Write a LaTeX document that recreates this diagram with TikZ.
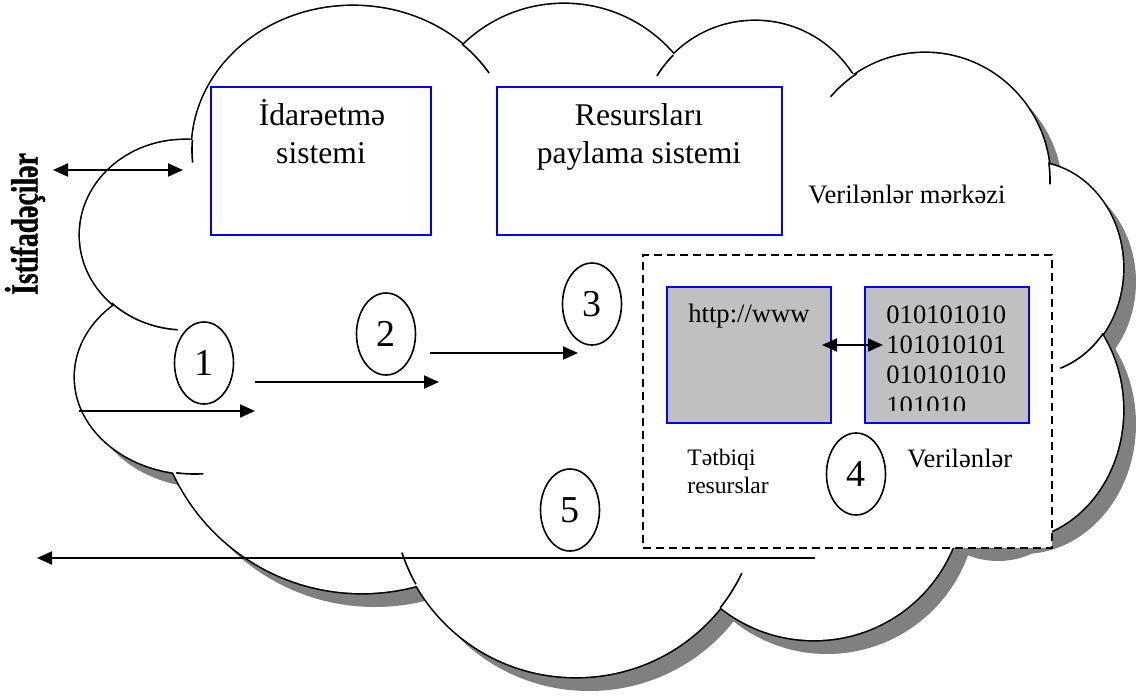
\documentclass[tikz,border=0pt]{standalone}
\usepackage{fontspec}
\setmainfont{Liberation Serif}
\newfontfamily\usersfont[FakeBold=1.2]{Liberation Serif Bold}
\usetikzlibrary{arrows.meta,shapes.geometric}
\definecolor{shadowgray}{HTML}{808080}
\definecolor{boxgray}{HTML}{C0C0C0}
\definecolor{boxblue}{HTML}{0000FF}
\newcommand\lobelist{185/235/105/95, 353/150/161/144, 564/150/145/146, 755/136/115/115, 925/180/125/127, 1030/268/93/106, 1010/410/113/130, 985/478/75/69, 814/490/150/150, 576/497/183/180, 362/385/208/208, 195/377/120/97}
\newcommand\hooklist{353/150/161/144/175/184, 353/150/161/144/-47.4/-32.3, 185/235/105/95/94/134.3, 195/377/120/97/86/99, 576/497/183/180/151/162, 576/497/183/180/25/38, 1030/268/93/106/38/71, 925/180/125/127/-8/2, 755/136/115/115/211.5/224.7, 925/180/125/127/221/237}
\begin{document}
\begin{tikzpicture}[x=0.5pt,y=-0.5pt,
  arr/.style={line width=1pt,-{Triangle[length=7.5pt,width=6.5pt]}},
  darr/.style={line width=1pt,{Triangle[length=7.5pt,width=6.5pt]}-{Triangle[length=7.5pt,width=6.5pt]}},
  bluebox/.style={draw=boxblue,line width=1pt,inner sep=0pt},
  graybox/.style={draw=boxblue,fill=boxgray,line width=1pt,inner sep=0pt,minimum width=82pt,minimum height=68pt},
  num/.style={ellipse,draw,line width=0.8pt,fill=white,inner sep=0pt,minimum width=29.5pt,minimum height=41pt,font=\fontsize{19}{22}\selectfont},
  bigtxt/.style={inner sep=0pt,anchor=base,font=\fontsize{15.8}{19}\selectfont},
  midtxt/.style={inner sep=0pt,anchor=base west,font=\fontsize{13.3}{16}\selectfont},
  smalltxt/.style={inner sep=0pt,anchor=base west,font=\fontsize{11.8}{14}\selectfont},
  cloudline/.style={line width=0.8pt}
]
\useasboundingbox (0,0) rectangle (1142,697);
% ---- cloud shadow
\begin{scope}[shift={(13,14)}]
  \foreach \cx/\cy/\rx/\ry in \lobelist {\fill[shadowgray] (\cx,\cy) ellipse [x radius=\rx, y radius=\ry];}
  \fill[shadowgray] (193,150) -- (463,44) -- (673,55) -- (855,74) -- (1048,163) -- (1103,333) -- (1040,525) -- (957,535) -- (720,607) -- (420,585) -- (177,475) -- (115,303) -- cycle;
\end{scope}
% ---- cloud outline (outer half of a double-width stroke survives)
\foreach \cx/\cy/\rx/\ry in \lobelist {\draw[line width=1.6pt] (\cx,\cy) ellipse [x radius=\rx, y radius=\ry];}
\foreach \cx/\cy/\rx/\ry in \lobelist {\fill[white] (\cx,\cy) ellipse [x radius=\rx, y radius=\ry];}
\fill[white] (193,150) -- (463,44) -- (673,55) -- (855,74) -- (1048,163) -- (1103,333) -- (1040,525) -- (957,535) -- (720,607) -- (420,585) -- (177,475) -- (115,303) -- cycle;
% ---- inner hooks of the cloud
\foreach \cx/\cy/\rx/\ry/\ta/\tb in \hooklist {\draw[cloudline] plot[domain=\ta:\tb, samples=15, smooth, variable=\t] ({\cx+\rx*cos(\t)},{\cy+\ry*sin(\t)});}

% ---- upper boxes
\node[bluebox,minimum width=110pt,minimum height=74pt] (ctrl) at (321,161) {};
\node[bluebox,minimum width=142.5pt,minimum height=74pt] (alloc) at (639.5,161) {};
\node[bigtxt] (ctrlA) at (322,125) {İdarəetmə};
\node[bigtxt] (ctrlB) at (321,163) {sistemi};
\node[bigtxt] (allocA) at (639,125) {Resursları};
\node[bigtxt] (allocB) at (639,163) {paylama sistemi};
\node[midtxt] (dc) at (808,203) {Verilənlər mərkəzi};

% ---- dashed data-centre box
\node[draw,fill=white,dash pattern=on 4pt off 2.5pt,line width=0.8pt,inner sep=0pt,minimum width=204.5pt,minimum height=146.5pt] (dash) at (847.5,401.5) {};
\node[graybox] (app) at (749,355) {};
\node[graybox] (data) at (947,355) {};
\node[midtxt] (url) at (688,322) {http://www};
\begin{scope}
  \clip (865,287) rectangle (1029,410);
  \node[midtxt] (b1) at (886,323) {010101010};
  \node[midtxt] (b2) at (886,353) {101010101};
  \node[midtxt] (b3) at (886,383) {010101010};
  \node[midtxt] (b4) at (886,414) {101010};
\end{scope}
\coordinate (dl) at (822,345);
\coordinate (dr) at (883,345);
\draw[darr] (dl) -- (dr);
\node[smalltxt] (appA) at (687,465) {Tətbiqi};
\node[smalltxt] (appB) at (687,493) {resurslar};
\node[midtxt] (dataL) at (907,467) {Verilənlər};

% ---- numbered ovals
\node[num] (n1) at (204,363) {1};
\node[num] (n2) at (386,334) {2};
\node[num] (n3) at (592,304) {3};
\node[num] (n4) at (856,474) {4};
\node[num] (n5) at (570,510) {5};

% ---- arrows
\coordinate (u1) at (53,170);
\coordinate (u2) at (183,170);
\draw[darr] (u1) -- (u2);
\coordinate (a1s) at (79,411);
\coordinate (a1e) at (255,411);
\draw[arr] (a1s) -- (a1e);
\coordinate (a2s) at (255,382);
\coordinate (a2e) at (439,382);
\draw[arr] (a2s) -- (a2e);
\coordinate (a3s) at (430,353);
\coordinate (a3e) at (578,353);
\draw[arr] (a3s) -- (a3e);
\coordinate (a5s) at (815,558);
\coordinate (a5e) at (37,558);
\draw[arr] (a5s) -- (a5e);

% ---- users label
\node[rotate=90,inner sep=0pt] (users) at (25,224) {\scalebox{0.73}[1]{\fontsize{19}{22}\selectfont\usersfont İstifadəçilər}};
\end{tikzpicture}
\end{document}
